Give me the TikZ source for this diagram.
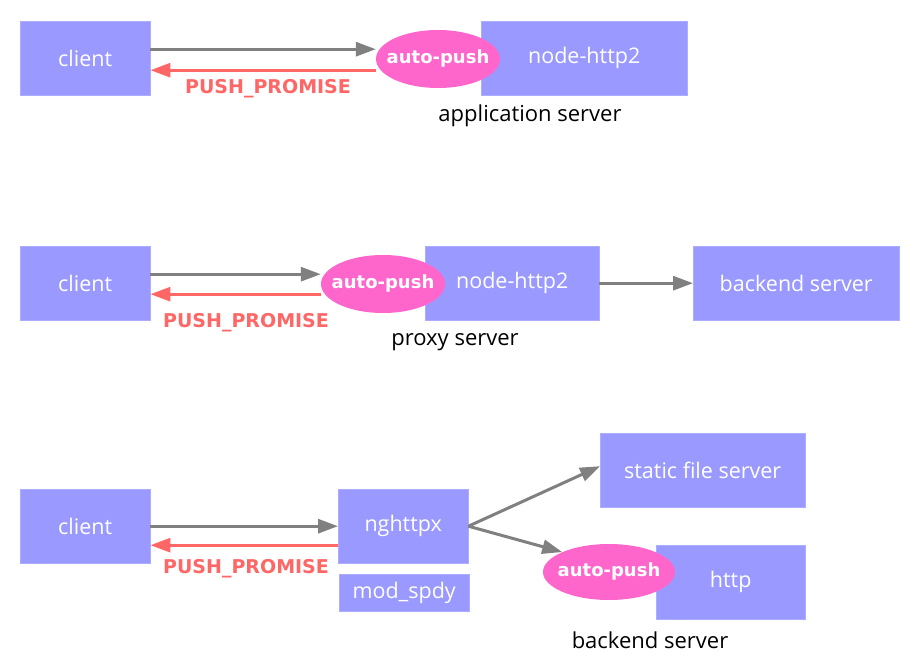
\documentclass[tikz,border=0pt]{standalone}
\usepackage{fontspec}
\setmainfont{Open Sans}
\newfontfamily\boldfont{DejaVu Sans}[BoldFont={DejaVu Sans Bold}]
\usetikzlibrary{arrows.meta,shapes.geometric}
\definecolor{boxblue}{HTML}{9999FF}
\definecolor{pushpink}{HTML}{FF66CC}
\definecolor{promred}{HTML}{FF6666}
\definecolor{flowgray}{HTML}{808080}
\newcommand\pushlabel{\makebox[0pt]{auto-push}}
\tikzset{
  server/.style={fill=boxblue, draw=boxblue!80, text=white, font=\fontsize{21.5}{24}\selectfont, inner sep=0pt, anchor=north west},
  autopush/.style={ellipse, fill=pushpink, text=white, font=\boldfont\bfseries\fontsize{18}{20}\selectfont, minimum width=124pt, minimum height=58pt, inner sep=0pt},
  flow/.style={draw=flowgray, line width=3pt, -{Triangle[length=20pt,width=14pt]}},
  promise/.style={draw=promred, line width=3pt, -{Triangle[length=20pt,width=14pt]}},
  promtext/.style={text=promred, font=\boldfont\bfseries\fontsize{19}{22}\selectfont},
  caption/.style={font=\fontsize{22}{24}\selectfont}
}
\begin{document}
\begin{tikzpicture}[x=1pt,y=-1pt]
  \useasboundingbox (0,0) rectangle (921,663);

  % Application server row
  \node [server, minimum width=130pt, minimum height=74pt] (client1) at (20,21) {client};
  \node [server, minimum width=206pt, minimum height=74pt] (app) at (481,21) {node-http2};
  \node [autopush] (push1) at (438,59) {\pushlabel};
  \draw [flow] ([yshift=9pt]client1.east) -- ([yshift=9pt]client1.east -| push1.west);%
  \draw [promise] ([yshift=-12pt]client1.east -| push1.west) -- ([yshift=-12pt]client1.east);%
  \node [promtext] (prom1) at (268,89) {PUSH\_PROMISE};
  \node [caption] (appcap) at (530,116) {application server};

  % Proxy server row
  \node [server, minimum width=130pt, minimum height=74pt] (client2) at (20,246) {client};
  \node [server, minimum width=174pt, minimum height=74pt] (proxy) at (425,246) {node-http2};
  \node [server, minimum width=206pt, minimum height=74pt] (backend2) at (693,246) {backend server};
  \node [autopush] (push2) at (383,284) {\pushlabel};
  \draw [flow] ([yshift=9pt]client2.east) -- ([yshift=9pt]client2.east -| push2.west);%
  \draw [promise] ([yshift=-11pt]client2.east -| push2.west) -- ([yshift=-11pt]client2.east);%
  \draw [flow] (proxy.east) -- (backend2.west);%
  \node [promtext] (prom2) at (246,323) {PUSH\_PROMISE};
  \node [caption] (proxycap) at (455,342) {proxy server};

  % Backend server row
  \node [server, minimum width=130pt, minimum height=74pt] (client3) at (20,489) {client};
  \node [server, minimum width=130pt, minimum height=74pt] (nghttpx) at (338,489) {nghttpx};
  \node [server, minimum width=130pt, minimum height=37pt] (spdy) at (339,574) {mod\_spdy};
  \node [server, minimum width=205pt, minimum height=74pt] (static) at (600,433) {static file server};
  \node [server, minimum width=149pt, minimum height=74pt] (http) at (656,545) {http};
  \node [autopush, minimum width=132pt, minimum height=56pt] (push3) at (609,572) {\pushlabel};
  \draw [flow] (client3.east) -- (nghttpx.west);%
  \draw [promise] ([yshift=-19pt]client3.east -| nghttpx.west) -- ([yshift=-19pt]client3.east);%
  \draw [flow] (nghttpx.east) -- ([yshift=4pt]static.west);%
  \draw [flow] (nghttpx.east) -- (push3.north west);%
  \node [promtext] (prom3) at (246,569) {PUSH\_PROMISE};
  \node [caption] (backcap) at (650,640) {backend server};
\end{tikzpicture}
\end{document}
